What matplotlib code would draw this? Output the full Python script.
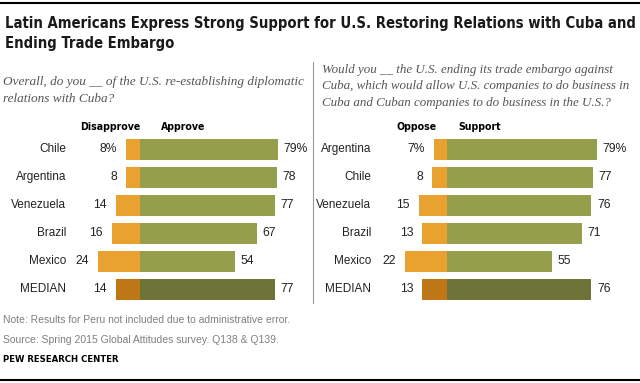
import matplotlib
matplotlib.use('Agg')
import matplotlib.pyplot as plt
from matplotlib.lines import Line2D

# data
countries_l = ['Chile', 'Argentina', 'Venezuela', 'Brazil', 'Mexico', 'MEDIAN']
disapprove = [8, 8, 14, 16, 24, 14]
approve = [79, 78, 77, 67, 54, 77]

countries_r = ['Argentina', 'Chile', 'Venezuela', 'Brazil', 'Mexico', 'MEDIAN']
oppose = [7, 8, 15, 13, 22, 13]
support = [79, 77, 76, 71, 55, 76]

ORANGE = '#E9A130'
GREEN = '#959E4A'
ORANGE_MED = '#BF7616'
GREEN_MED = '#6E7437'

W, H = 640, 383
fig = plt.figure(figsize=(W / 100, H / 100), dpi=100)

SANS = ['DejaVu Sans', 'Liberation Sans']
BODY = ['Liberation Sans', 'DejaVu Sans']
SERIF = ['Liberation Serif', 'DejaVu Serif']


def px_axes(x0, x1, y_top, y_bot):
    return fig.add_axes([x0 / W, 1 - y_bot / H, (x1 - x0) / W, (y_bot - y_top) / H])


def panel(ax, names, neg, pos, neg_lbl, pos_lbl, zero_px, scale, x0, x1, name_px, neg_hdr_px, pos_hdr_px):
    ax.set_xlim((x0 - zero_px) / scale, (x1 - zero_px) / scale)
    ax.set_ylim(5.5, -1.5)
    ax.axis('off')
    n = len(names)
    for i in range(n):
        med = names[i] == 'MEDIAN'
        ax.barh(i, -neg[i], height=0.75, color=ORANGE_MED if med else ORANGE, lw=0)
        ax.barh(i, pos[i], height=0.75, color=GREEN_MED if med else GREEN, lw=0)
        suf = '%' if i == 0 else ''
        ax.annotate(f'{neg[i]}{suf}', (-neg[i], i), xytext=(-6.5, 0), textcoords='offset points',
                    ha='right', va='center', fontsize=8.7, family=BODY, color='#222222')
        ax.annotate(f'{pos[i]}{suf}', (pos[i], i), xytext=(4, 0), textcoords='offset points',
                    ha='left', va='center', fontsize=8.7, family=BODY, color='#222222')
        ax.text((name_px - zero_px) / scale, i, names[i], ha='right', va='center',
                fontsize=8.5, family=BODY, color='#222222')
    ax.text((neg_hdr_px - zero_px) / scale, -0.8, neg_lbl, ha='right', va='center',
            fontsize=7.6, family=SANS, stretch='condensed', weight='bold', color='black')
    ax.text((pos_hdr_px - zero_px) / scale, -0.8, pos_lbl, ha='left', va='center',
            fontsize=7.6, family=SANS, stretch='condensed', weight='bold', color='black')


row_top = 149.3 - 14 - 28
row_bot = 149.3 + 5 * 28 + 14

axl = px_axes(0, 312, row_top, row_bot)
panel(axl, countries_l, disapprove, approve, 'Disapprove', 'Approve',
      140, 1.75, 0, 312, 66, 140, 161)

axr = px_axes(316, 640, row_top, row_bot)
panel(axr, countries_r, oppose, support, 'Oppose', 'Support',
      447, 1.9, 316, 640, 371, 437, 458)

# frame lines
fig.add_artist(Line2D([0, 1], [1 - 2.5 / H, 1 - 2.5 / H], color='black', lw=1.5))
fig.add_artist(Line2D([0, 1], [1 - 380 / H, 1 - 380 / H], color='black', lw=1.5))
fig.add_artist(Line2D([313 / W, 313 / W], [1 - 62 / H, 1 - 303 / H], color='#999999', lw=0.8))

# title
t1 = fig.text(5 / W, 1 - 28 / H, 'Latin Americans Express Strong Support for U.S. Restoring Relations with Cuba and',
              ha='left', va='baseline', fontsize=11, weight='bold', family=SANS,
              stretch='condensed', color='#1a1a1a')
t2 = fig.text(5 / W, 1 - 48 / H, 'Ending Trade Embargo',
              ha='left', va='baseline', fontsize=11, weight='bold', family=SANS,
              stretch='condensed', color='#1a1a1a')
r = fig.canvas.get_renderer()
w = t1.get_window_extent(r).width
if w > 628:
    fs = 11 * 628 / w
    t1.set_fontsize(fs)
    t2.set_fontsize(fs)

# subtitles
sub_l = ['Overall, do you __ of the U.S. re-establishing diplomatic',
         'relations with Cuba?']
for k, s in enumerate(sub_l):
    fig.text(3 / W, 1 - (82 + 16.5 * k) / H, s, ha='left', va='center',
             fontsize=9.5, style='italic', family=SERIF, color='#555555')
sub_r = ['Would you __ the U.S. ending its trade embargo against',
         'Cuba, which would allow U.S. companies to do business in',
         'Cuba and Cuban companies to do business in the U.S.?']
for k, s in enumerate(sub_r):
    fig.text(322 / W, 1 - (70 + 16.4 * k) / H, s, ha='left', va='center',
             fontsize=9.4, style='italic', family=SERIF, color='#555555')

# footer
fig.text(3 / W, 1 - 320 / H, 'Note: Results for Peru not included due to administrative error.',
         ha='left', va='center', fontsize=7.5, family=BODY, color='#7f7f7f')
fig.text(3 / W, 1 - 340 / H, 'Source: Spring 2015 Global Attitudes survey. Q138 & Q139.',
         ha='left', va='center', fontsize=7.5, family=BODY, color='#7f7f7f')
fig.text(3 / W, 1 - 360 / H, 'PEW RESEARCH CENTER',
         ha='left', va='center', fontsize=6.8, weight='bold', family=SANS,
         stretch='condensed', color='black')

fig.savefig('out.png', dpi=100)
